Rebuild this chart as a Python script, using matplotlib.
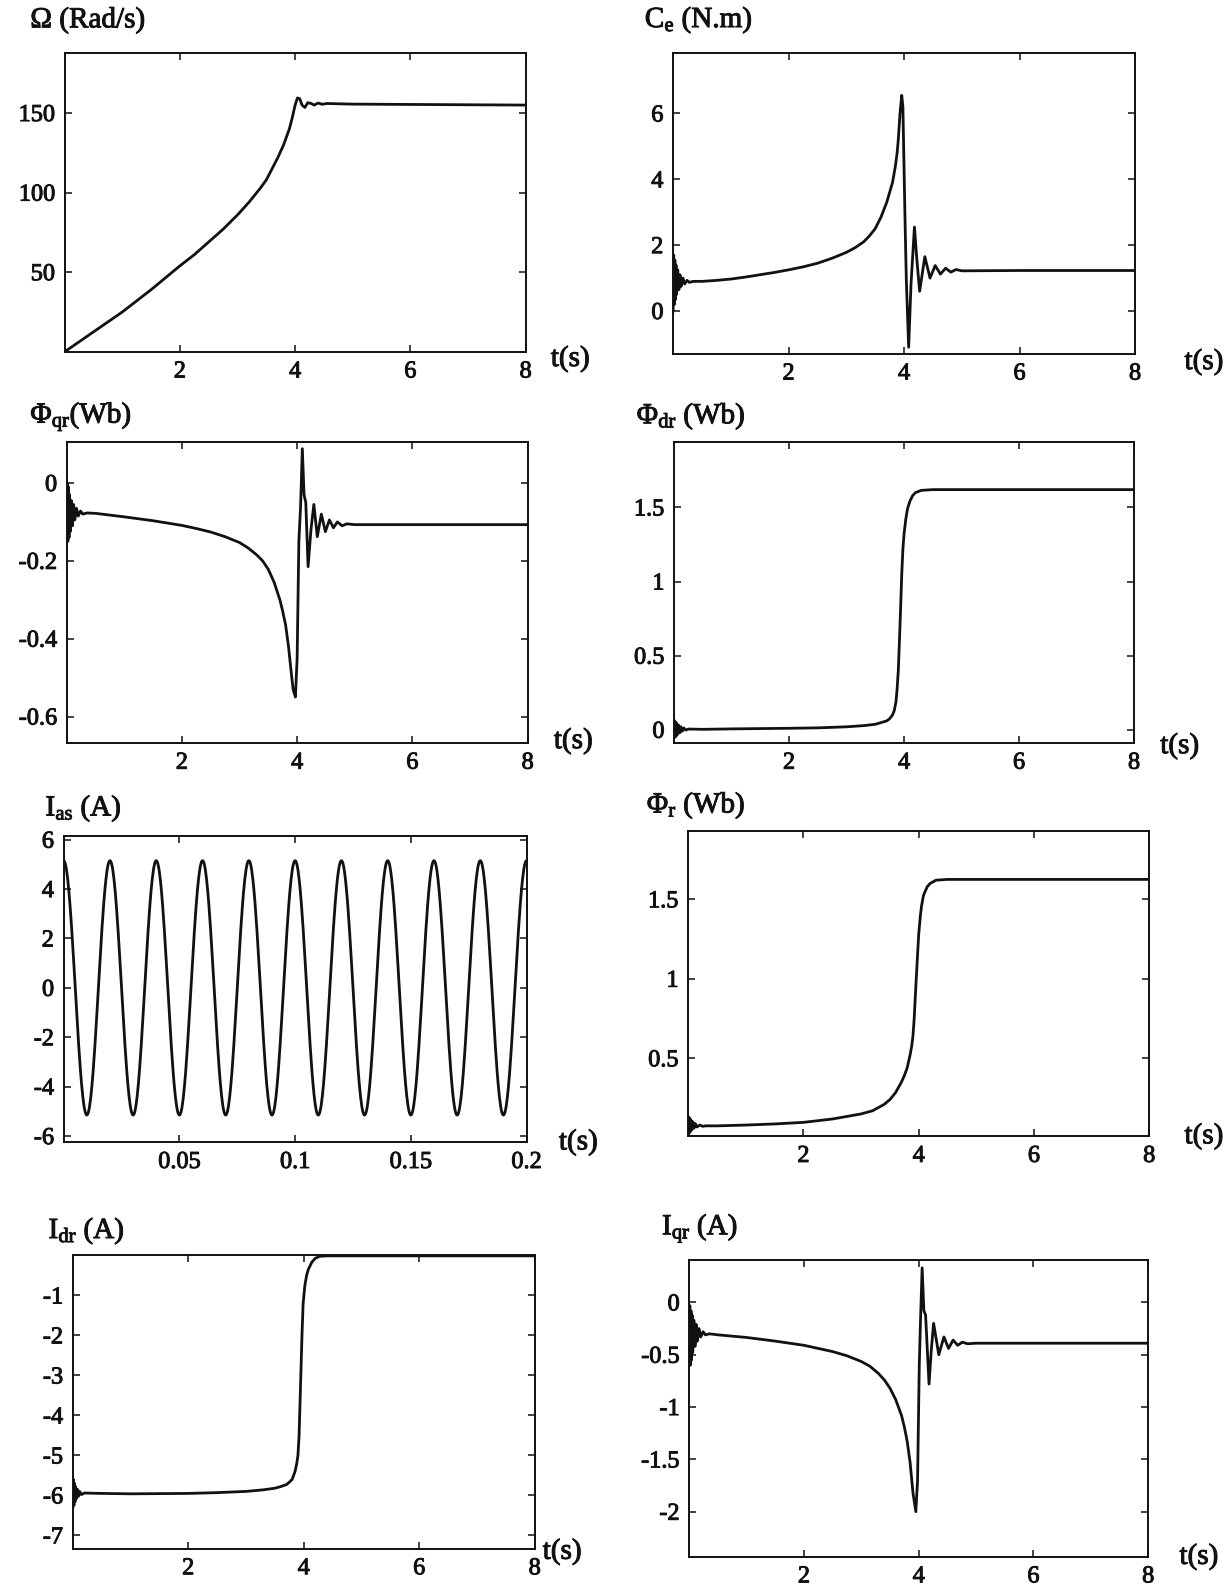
import matplotlib
matplotlib.use('Agg')
import matplotlib.pyplot as plt
import matplotlib.patheffects as pe
import numpy as np

# ---------------- data ----------------
# Omega (rad/s)
omega_t = [0, 0.5, 1.0, 1.5, 2.0, 2.25, 2.5, 2.75, 3.0, 3.2, 3.4, 3.5, 3.6, 3.7, 3.8,
           3.85, 3.9, 3.95, 4.0, 4.04, 4.08, 4.12, 4.17, 4.22, 4.28, 4.33, 4.4, 4.47,
           4.55, 5.0, 6.0, 7.0, 8.0]
omega_v = [0, 12.5, 25, 39, 54, 61, 69, 77, 86, 94, 103, 108, 115, 122, 130,
           135, 140, 147, 155, 159.5, 159, 155, 153.5, 156.5, 156, 155, 156.3, 155.5,
           156, 155.6, 155.4, 155.2, 155.0]

# Electromagnetic torque Ce (N.m)
ce_t = [0, 0.01, 0.02, 0.03, 0.04, 0.05, 0.06, 0.08, 0.10, 0.12, 0.14, 0.17, 0.20, 0.24,
        0.28, 0.35, 0.5, 0.75, 1.0, 1.25, 1.5, 1.75, 2.0, 2.25, 2.5, 2.75, 3.0, 3.15,
        3.3, 3.4, 3.5, 3.6, 3.7, 3.75, 3.8, 3.85, 3.88, 3.9, 3.93, 3.96, 3.98, 4.02,
        4.04, 4.08, 4.12, 4.18, 4.22, 4.27, 4.36, 4.45, 4.54, 4.63, 4.72, 4.81, 4.9,
        5.0, 6.0, 8.0]
ce_v = [0.0, 1.7, 0.2, 1.55, 0.35, 1.4, 0.5, 1.25, 0.65, 1.1, 0.75, 1.0, 0.82, 0.93,
        0.87, 0.9, 0.9, 0.93, 0.97, 1.03, 1.1, 1.17, 1.25, 1.34, 1.45, 1.6, 1.78, 1.92,
        2.1, 2.28, 2.5, 2.85, 3.3, 3.6, 3.9, 4.4, 4.8, 5.2, 6.0, 6.55, 6.2, 2.5,
        0.9, -1.1, 0.8, 2.55, 1.6, 0.6, 1.65, 1.0, 1.38, 1.12, 1.3, 1.18, 1.26,
        1.22, 1.23, 1.23]

# Quadrature rotor flux Phi_qr (Wb)
phiqr_t = [0, 0.01, 0.02, 0.03, 0.04, 0.05, 0.06, 0.08, 0.10, 0.12, 0.14, 0.17, 0.20, 0.24,
           0.28, 0.35, 0.5, 1.0, 1.5, 2.0, 2.25, 2.5, 2.75, 3.0, 3.15, 3.3, 3.4, 3.5,
           3.6, 3.7, 3.75, 3.8, 3.85, 3.9, 3.93, 3.97, 4.0, 4.03, 4.06, 4.09, 4.12,
           4.15, 4.19, 4.24, 4.29, 4.35, 4.42, 4.49, 4.56, 4.63, 4.7, 4.78, 4.86, 5.0, 8.0]
phiqr_v = [-0.02, 0.0, -0.15, -0.01, -0.14, -0.03, -0.125, -0.045, -0.11, -0.055, -0.095,
           -0.065, -0.085, -0.072, -0.08, -0.077, -0.078, -0.087, -0.097, -0.109, -0.117,
           -0.126, -0.138, -0.153, -0.167, -0.185, -0.2, -0.222, -0.255, -0.3, -0.33,
           -0.365, -0.42, -0.49, -0.53, -0.55, -0.45, -0.15, -0.06, 0.088, -0.03,
           -0.05, -0.215, -0.12, -0.055, -0.138, -0.08, -0.125, -0.095, -0.115, -0.1,
           -0.11, -0.105, -0.107, -0.107]

# Direct rotor flux Phi_dr (Wb)
phidr_t = [0, 0.01, 0.02, 0.03, 0.04, 0.05, 0.06, 0.08, 0.10, 0.12, 0.14, 0.17, 0.2, 0.25,
           0.5, 1.0, 2.0, 2.5, 3.0, 3.3, 3.5, 3.7, 3.75, 3.8, 3.83, 3.86, 3.88, 3.9,
           3.92, 3.94, 3.96, 3.98, 4.0, 4.03, 4.06, 4.1, 4.15, 4.2, 4.3, 4.5, 8.0]
phidr_v = [0.0, 0.06, -0.05, 0.05, -0.04, 0.04, -0.03, 0.03, -0.02, 0.02, -0.01, 0.012,
           -0.002, 0.005, 0.003, 0.006, 0.01, 0.013, 0.02, 0.028, 0.037, 0.06, 0.075,
           0.1, 0.13, 0.19, 0.28, 0.4, 0.6, 0.82, 1.05, 1.22, 1.32, 1.42, 1.49, 1.54,
           1.58, 1.6, 1.615, 1.62, 1.62]

# Stator current I_as (A): successive extrema
ias_t = [0.00, 0.01, 0.02, 0.03, 0.04, 0.05, 0.06, 0.07, 0.08, 0.09, 0.10,
         0.11, 0.12, 0.13, 0.14, 0.15, 0.16, 0.17, 0.18, 0.19, 0.20]
ias_v = [5.15, -5.15, 5.15, -5.15, 5.15, -5.15, 5.15, -5.15, 5.15, -5.15, 5.15,
         -5.15, 5.15, -5.15, 5.15, -5.15, 5.15, -5.15, 5.15, -5.15, 5.15]

# Rotor flux magnitude Phi_r (Wb)
phir_t = [0, 0.01, 0.02, 0.03, 0.04, 0.05, 0.06, 0.08, 0.10, 0.12, 0.15, 0.2, 0.25, 0.3,
          0.5, 1.0, 1.5, 2.0, 2.5, 3.0, 3.2, 3.4, 3.5, 3.6, 3.7, 3.75, 3.8, 3.85, 3.88,
          3.9, 3.92, 3.95, 3.98, 4.0, 4.03, 4.05, 4.08, 4.1, 4.15, 4.2, 4.3, 4.5, 8.0]
phir_v = [0.02, 0.13, 0.03, 0.12, 0.04, 0.11, 0.05, 0.1, 0.06, 0.09, 0.068, 0.08, 0.072,
          0.075, 0.075, 0.08, 0.087, 0.097, 0.118, 0.15, 0.17, 0.21, 0.24, 0.285, 0.35,
          0.39, 0.44, 0.52, 0.58, 0.64, 0.74, 0.95, 1.15, 1.28, 1.4, 1.46, 1.52, 1.54,
          1.58, 1.6, 1.62, 1.625, 1.625]

# Direct rotor current I_dr (A)
idr_t = [0, 0.01, 0.02, 0.03, 0.04, 0.05, 0.06, 0.08, 0.10, 0.12, 0.15, 0.2, 0.5, 1.0,
         2.0, 2.5, 3.0, 3.3, 3.5, 3.6, 3.7, 3.75, 3.8, 3.85, 3.88, 3.9, 3.92, 3.93,
         3.95, 3.97, 3.99, 4.02, 4.05, 4.08, 4.14, 4.2, 4.28, 4.4, 8.0]
idr_v = [-6.3, -5.6, -6.25, -5.7, -6.15, -5.78, -6.08, -5.85, -6.02, -5.9, -5.98, -5.94,
         -5.95, -5.96, -5.95, -5.93, -5.9, -5.86, -5.82, -5.78, -5.73, -5.67, -5.6,
         -5.4, -5.2, -5.0, -4.5, -4.0, -3.0, -2.0, -1.2, -0.75, -0.5, -0.35, -0.17,
         -0.07, -0.02, -0.01, -0.01]

# Quadrature rotor current I_qr (A)
iqr_t = [0, 0.01, 0.02, 0.03, 0.04, 0.05, 0.06, 0.08, 0.10, 0.12, 0.14, 0.17, 0.2, 0.24,
         0.28, 0.35, 0.5, 1.0, 1.5, 2.0, 2.25, 2.5, 2.75, 3.0, 3.15, 3.3, 3.4, 3.5, 3.6,
         3.7, 3.75, 3.8, 3.85, 3.9, 3.95, 3.98, 4.01, 4.03, 4.06, 4.09, 4.12, 4.18,
         4.22, 4.26, 4.35, 4.44, 4.52, 4.6, 4.68, 4.76, 4.85, 5.0, 8.0]
iqr_v = [-0.1, -0.03, -0.6, -0.08, -0.55, -0.12, -0.48, -0.17, -0.42, -0.21, -0.37, -0.25,
         -0.33, -0.28, -0.31, -0.3, -0.31, -0.335, -0.37, -0.41, -0.44, -0.47, -0.51,
         -0.565, -0.61, -0.68, -0.74, -0.82, -0.93, -1.08, -1.19, -1.33, -1.53, -1.82,
         -2.0, -1.7, -0.6, -0.2, 0.33, -0.08, -0.12, -0.78, -0.45, -0.2, -0.5, -0.33,
         -0.44, -0.36, -0.41, -0.38, -0.395, -0.39, -0.39]

# tick labels
t8_ticks = [2, 4, 6, 8]
t8_labels = ['2', '4', '6', '8']
omega_yt = [50, 100, 150]
ce_yt = [0, 2, 4, 6]
phiqr_yt = [0, -0.2, -0.4, -0.6]
phidr_yt = [0, 0.5, 1, 1.5]
ias_yt = [-6, -4, -2, 0, 2, 4, 6]
ias_xt = [0.05, 0.1, 0.15, 0.2]
phir_yt = [0.5, 1, 1.5]
idr_yt = [-1, -2, -3, -4, -5, -6, -7]
iqr_yt = [0, -0.5, -1, -1.5, -2]

# ---------------- drawing ----------------
plt.rcParams['font.family'] = ['Liberation Serif', 'DejaVu Serif']
plt.rcParams['mathtext.fontset'] = 'custom'
plt.rcParams['mathtext.rm'] = 'Liberation Serif'
plt.rcParams['mathtext.it'] = 'Liberation Serif:italic'

W, H = 1231, 1585
SX = 1231 / 1218
SY = 1585 / 1568
INK = '#111111'
BOLD = [pe.withStroke(linewidth=0.7, foreground=INK)]

fig = plt.figure(figsize=(W / 100, H / 100), dpi=100)
fig.patch.set_facecolor('white')


def add_ax(L, T, R, B):
    l = L * SX / W
    r = R * SX / W
    t = T * SY / H
    b = B * SY / H
    ax = fig.add_axes([l, 1 - b, r - l, b - t])
    ax.tick_params(direction='in', top=True, right=True, length=5, width=1.1,
                   labelsize=17.5, pad=7, colors=INK)
    for s in ax.spines.values():
        s.set_linewidth(1.4)
        s.set_color(INK)
    return ax


def ftext(x, y, s, size=21):
    fig.text(x * SX / W, 1 - y * SY / H, s, va='center', ha='left', fontsize=size,
             color=INK, path_effects=BOLD)


def fmt(v):
    return '%g' % v


def eased(tp, vp, n=40):
    ts, vs = [], []
    for i in range(len(tp) - 1):
        s = np.linspace(0, 1, n, endpoint=False)
        ts.append(tp[i] + (tp[i + 1] - tp[i]) * s)
        vs.append(vp[i] + (vp[i + 1] - vp[i]) * (1 - np.cos(np.pi * s)) / 2)
    ts.append([tp[-1]])
    vs.append([vp[-1]])
    return np.concatenate(ts), np.concatenate(vs)


def style_ticks(ax):
    for lab in ax.get_xticklabels() + ax.get_yticklabels():
        lab.set_path_effects(BOLD)


LW = 2.0
specs = [
    ((64, 52, 520, 348), omega_t, omega_v, (0, 8), (0, 188), omega_yt,
     (30, 20), 'Ω (Rad/s)', (545, 355)),
    ((666, 52, 1123, 350), ce_t, ce_v, (0, 8), (-1.3, 7.85), ce_yt,
     (638, 20), 'C$_{\\mathrm{e}}$ (N.m)', (1172, 358)),
    ((66, 437, 522, 735), phiqr_t, phiqr_v, (0, 8), (-0.668, 0.106), phiqr_yt,
     (30, 412), 'Φ$_{\\mathrm{qr}}$(Wb)', (548, 733)),
    ((667, 437, 1122, 735), phidr_t, phidr_v, (0, 8), (-0.089, 1.943), phidr_yt,
     (630, 412), 'Φ$_{\\mathrm{dr}}$ (Wb)', (1148, 738)),
    ((681, 822, 1137, 1124), phir_t, phir_v, (0, 8), (0.01, 1.93), phir_yt,
     (640, 797), 'Φ$_{\\mathrm{r}}$ (Wb)', (1172, 1124)),
    ((72, 1242, 529, 1532), idr_t, idr_v, (0, 8), (-7.33, 0.0), idr_yt,
     (48, 1218), 'I$_{\\mathrm{dr}}$ (A)', (537, 1535)),
    ((682, 1246, 1136, 1540), iqr_t, iqr_v, (0, 8), (-2.43, 0.41), iqr_yt,
     (655, 1215), 'I$_{\\mathrm{qr}}$ (A)', (1167, 1540)),
]

for box, tt, vv, xl, yl, yt, tpos, title, spos in specs:
    ax = add_ax(*box)
    ax.plot(tt, vv, color=INK, lw=LW, solid_joinstyle='round')
    ax.set_xlim(*xl)
    ax.set_ylim(*yl)
    ax.set_xticks(t8_ticks)
    ax.set_xticklabels(t8_labels)
    ax.set_yticks(yt)
    ax.set_yticklabels([fmt(v) for v in yt])
    style_ticks(ax)
    ftext(tpos[0], tpos[1], title)
    ftext(spos[0], spos[1], 't(s)')

# I_as panel
ax = add_ax(63, 827, 521, 1130)
xs, ys = eased(ias_t, ias_v)
ax.plot(xs, ys, color=INK, lw=LW)
ax.set_xlim(0, 0.2)
ax.set_ylim(-6.25, 6.15)
ax.set_xticks(ias_xt)
ax.set_xticklabels([fmt(v) for v in ias_xt])
ax.set_yticks(ias_yt)
ax.set_yticklabels([fmt(v) for v in ias_yt])
style_ticks(ax)
ftext(45, 800, 'I$_{\\mathrm{as}}$ (A)')
ftext(553, 1130, 't(s)')

fig.savefig('out.png', dpi=100, facecolor='white')
